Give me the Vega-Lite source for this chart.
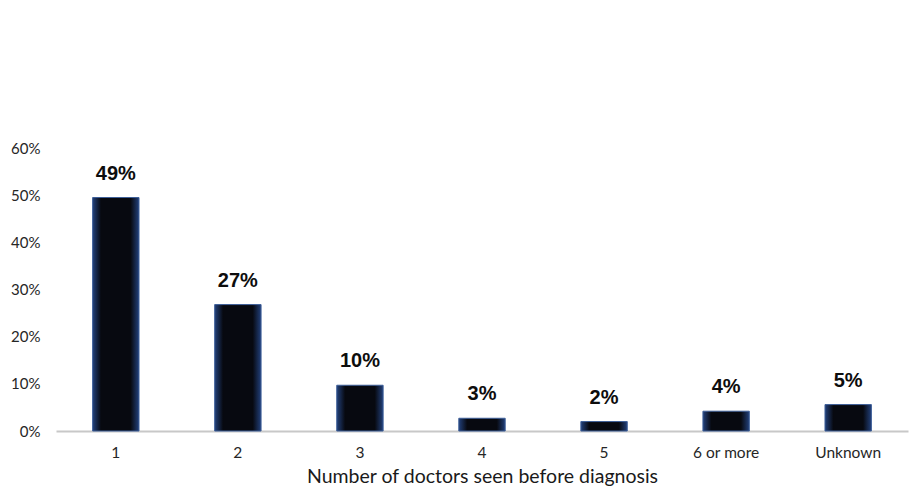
{
  "$schema": "https://vega.github.io/schema/vega-lite/v6.json",
  "width": 852,
  "height": 283,
  "autosize": {"type": "none"},
  "padding": {"left": 56, "top": 148, "right": 1, "bottom": 69},
  "background": "white",
  "config": {"view": {"stroke": null}},
  "data": {
    "values": [
      {"doctors": "1", "share": 0.495, "label": "49%"},
      {"doctors": "2", "share": 0.268, "label": "27%"},
      {"doctors": "3", "share": 0.097, "label": "10%"},
      {"doctors": "4", "share": 0.027, "label": "3%"},
      {"doctors": "5", "share": 0.02, "label": "2%"},
      {"doctors": "6 or more", "share": 0.042, "label": "4%"},
      {"doctors": "Unknown", "share": 0.056, "label": "5%"}
    ]
  },
  "encoding": {
    "x": {
      "field": "doctors",
      "type": "nominal",
      "sort": null,
      "scale": {"paddingInner": 0.62, "paddingOuter": 0.3},
      "axis": {
        "title": "Number of doctors seen before diagnosis",
        "titleFont": "Lato",
        "titleFontSize": 19.5,
        "titleFontWeight": "normal",
        "titleColor": "#1a1a1a",
        "titlePadding": 7,
        "labelFont": "Lato",
        "labelFontSize": 15.5,
        "labelColor": "#262626",
        "labelAngle": 0,
        "labelPadding": 14,
        "ticks": false,
        "domainColor": "#c8c8c8",
        "domainWidth": 2
      }
    },
    "y": {
      "field": "share",
      "type": "quantitative",
      "scale": {"domain": [0, 0.6]},
      "axis": {
        "title": null,
        "format": ".0%",
        "values": [0, 0.1, 0.2, 0.3, 0.4, 0.5, 0.6],
        "grid": false,
        "domain": false,
        "ticks": false,
        "labelFont": "Lato",
        "labelFontSize": 15,
        "labelColor": "#262626",
        "labelPadding": 16
      }
    }
  },
  "layer": [
    {
      "mark": {
        "type": "bar",
        "fill": {
          "gradient": "linear",
          "x1": 0, "y1": 0, "x2": 1, "y2": 0,
          "stops": [
            {"offset": 0, "color": "#22407a"},
            {"offset": 0.18, "color": "#070910"},
            {"offset": 0.82, "color": "#070910"},
            {"offset": 1, "color": "#22407a"}
          ]
        },
        "stroke": "#3d5f99",
        "strokeWidth": 1
      }
    },
    {
      "mark": {"type": "text", "font": "Liberation Sans", "fontWeight": "bold", "fontSize": 20, "color": "#0d0d0d", "baseline": "alphabetic", "dy": -18},
      "encoding": {"text": {"field": "label"}}
    }
  ]
}
